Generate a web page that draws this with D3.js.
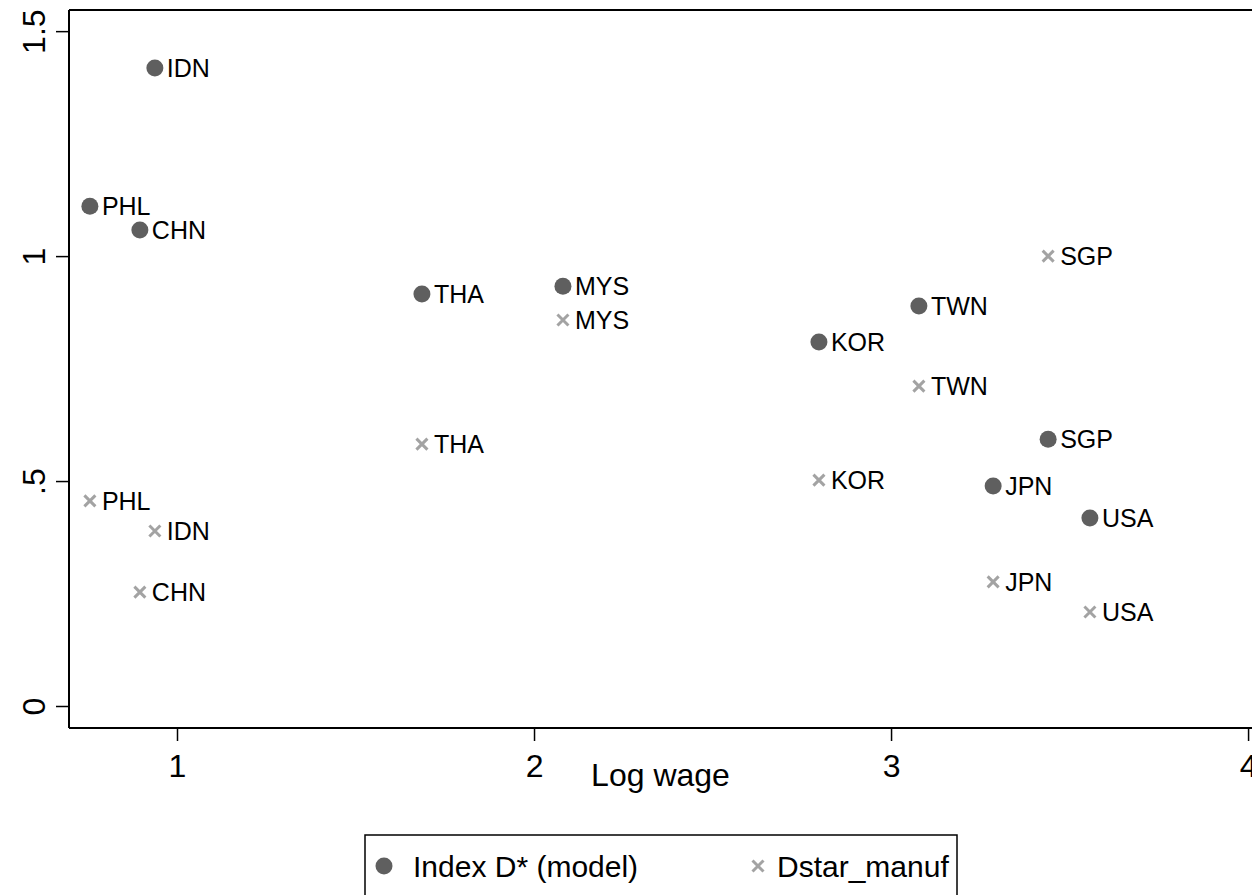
<!DOCTYPE html>
<html>
<head>
<meta charset="utf-8">
<script src="https://cdn.jsdelivr.net/npm/d3@7"></script>
<style>
  body { margin: 0; background: #fff; }
  text { font-family: "Liberation Sans", Arial, sans-serif; }
</style>
</head>
<body>
<div id="chart"></div>
<script>
// data
var countries = ['IDN', 'PHL', 'CHN', 'THA', 'MYS', 'TWN', 'KOR', 'SGP', 'JPN', 'USA'];
var logWage   = [0.938, 0.756, 0.896, 1.686, 2.081, 3.078, 2.798, 3.440, 3.286, 3.557];
var indexD    = [1.418, 1.111, 1.058, 0.916, 0.933, 0.889, 0.809, 0.593, 0.489, 0.418];
var dstarManuf = [0.389, 0.456, 0.253, 0.582, 0.858, 0.711, 0.502, 1.000, 0.276, 0.209];
var xTicks = [1, 2, 3, 4];
var yTicks = [0, 0.5, 1, 1.5];
var yTickLabels = ['0', '.5', '1', '1.5'];
var legendLabels = ['Index D* (model)', 'Dstar_manuf'];

var width = 1252,
    height = 895;

// plot region edges (don't call it "top", window.top is taken)
var pLeft = 69, pTop = 10, pRight = 1252, pBottom = 728;

var dotColor = '#5f5f5f',
    crossColor = '#a3a3a3';

var svg = d3.select('#chart').append('svg')
    .attr('width', width)
    .attr('height', height);

var x = d3.scaleLinear().domain([0.6975, 4.011]).range([pLeft, pRight]);
var y = d3.scaleLinear().domain([-0.0489, 1.547]).range([pBottom, pTop]);

// top line of the frame
svg.append('line')
    .attr('x1', pLeft).attr('x2', pRight)
    .attr('y1', pTop).attr('y2', pTop)
    .attr('stroke', '#000').attr('stroke-width', 2);

var xAxis = svg.append('g')
    .attr('transform', 'translate(0,' + pBottom + ')')
    .call(d3.axisBottom(x).tickValues(xTicks).tickSize(13).tickPadding(9).tickFormat(d3.format('d')));

var yAxis = svg.append('g')
    .attr('transform', 'translate(' + pLeft + ',0)')
    .call(d3.axisLeft(y).tickValues(yTicks).tickSize(13).tickPadding(10)
      .tickFormat(function(d, i) { return yTickLabels[i]; }));

[xAxis, yAxis].forEach(function(g) {
  g.select('.domain').attr('stroke', '#000').attr('stroke-width', 2);
  g.selectAll('.tick line').attr('stroke', '#000').attr('stroke-width', 1.5);
  g.selectAll('.tick text')
    .attr('fill', '#000')
    .style('font-size', '32px')
    .style('font-family', '"Liberation Sans", Arial, sans-serif');
});
// domain lines without the end ticks
xAxis.select('.domain').attr('d', 'M' + pLeft + ',0H' + pRight);
yAxis.select('.domain').attr('d', 'M0,' + pBottom + 'V' + pTop);

// y tick labels are turned on their side
yAxis.selectAll('.tick text')
    .attr('text-anchor', 'middle')
    .attr('x', 0)
    .attr('dy', 0)
    .attr('transform', 'translate(-24,0) rotate(-90)');

xAxis.selectAll('.tick text').attr('dy', '0.85em');

// axis title
svg.append('text')
    .attr('x', (pLeft + pRight) / 2)
    .attr('y', 786)
    .attr('text-anchor', 'middle')
    .style('font-size', '32px')
    .text('Log wage');

var rows = countries.map(function(c, i) {
  return { name: c, x: logWage[i], d: indexD[i], m: dstarManuf[i] };
});

var drawCross = function(g, cx, cy, s) {
  g.append('path')
    .attr('d', 'M' + (cx - s) + ',' + (cy - s) + 'L' + (cx + s) + ',' + (cy + s) +
               'M' + (cx - s) + ',' + (cy + s) + 'L' + (cx + s) + ',' + (cy - s))
    .attr('stroke', crossColor)
    .attr('stroke-width', 3);
};

var plot = svg.append('g');

// Index D* circles
plot.selectAll('circle.dot')
    .data(rows)
  .enter().append('circle')
    .attr('class', 'dot')
    .attr('cx', function(d) { return x(d.x); })
    .attr('cy', function(d) { return y(d.d); })
    .attr('r', 8.5)
    .attr('fill', dotColor);

plot.selectAll('text.dlab')
    .data(rows)
  .enter().append('text')
    .attr('class', 'dlab')
    .attr('x', function(d) { return x(d.x) + 12; })
    .attr('y', function(d) { return y(d.d); })
    .attr('dy', '0.36em')
    .style('font-size', '25px')
    .text(function(d) { return d.name; });

// Dstar_manuf crosses
rows.forEach(function(d) {
  drawCross(plot, x(d.x), y(d.m), 5.5);
});

plot.selectAll('text.mlab')
    .data(rows)
  .enter().append('text')
    .attr('class', 'mlab')
    .attr('x', function(d) { return x(d.x) + 12; })
    .attr('y', function(d) { return y(d.m); })
    .attr('dy', '0.36em')
    .style('font-size', '25px')
    .text(function(d) { return d.name; });

// legend
var legend = svg.append('g');
legend.append('rect')
    .attr('x', 365).attr('y', 835)
    .attr('width', 592).attr('height', 80)
    .attr('fill', '#fff')
    .attr('stroke', '#000')
    .attr('stroke-width', 1.5);

legend.append('circle')
    .attr('cx', 384).attr('cy', 866)
    .attr('r', 8.5)
    .attr('fill', dotColor);
legend.append('text')
    .attr('x', 413).attr('y', 866)
    .attr('dy', '0.36em')
    .style('font-size', '30px')
    .text(legendLabels[0]);

drawCross(legend, 758, 866, 5.5);
legend.append('text')
    .attr('x', 777).attr('y', 866)
    .attr('dy', '0.36em')
    .style('font-size', '30px')
    .text(legendLabels[1]);
</script>
</body>
</html>
